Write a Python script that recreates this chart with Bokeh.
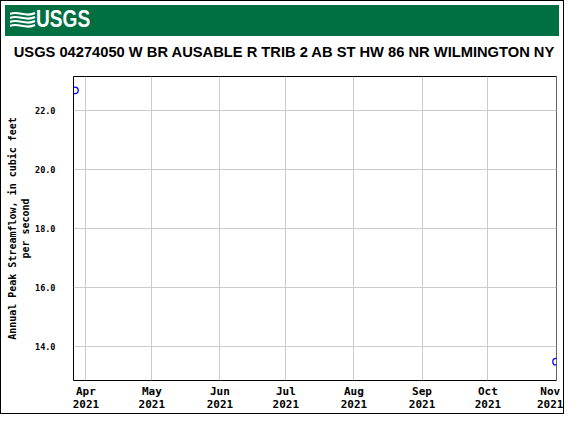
import pandas as pd
from bokeh.plotting import figure
from bokeh.layouts import column
from bokeh.models import (Range1d, FixedTicker, DatetimeTickFormatter, NumeralTickFormatter, Div)
from bokeh.embed import file_html
from bokeh.resources import INLINE

# ---------------- data ----------------
title_text = "USGS 04274050 W BR AUSABLE R TRIB 2 AB ST HW 86 NR WILMINGTON NY"
logo_text = "USGS"
y_label = "Annual Peak Streamflow, in cubic feet\nper second"

peak_dates = ["2021-03-27", "2021-11-01"]
peak_flows = [22.7, 13.5]

x_tick_dates = ["2021-04-01", "2021-05-01", "2021-06-01", "2021-07-01",
                "2021-08-01", "2021-09-01", "2021-10-01", "2021-11-01"]
x_tick_labels = ["Apr\n2021", "May\n2021", "Jun\n2021", "Jul\n2021",
                 "Aug\n2021", "Sep\n2021", "Oct\n2021", "Nov\n2021"]
y_ticks = [14, 16, 18, 20, 22]
y_tick_labels = ["14.0", "16.0", "18.0", "20.0", "22.0"]

x_start, x_end = "2021-03-26 08:00", "2021-11-01 05:00"
y_start, y_end = 12.86, 23.17


def ms(s):
    return pd.Timestamp(s).value / 1e6


W = 562
HEAD_H = 67
MAIN_H = 345
GREEN = "#006f41"
MONO = "DejaVu Sans Mono"

# ---------------- header: USGS bar + station title ----------------
wave_paths = "".join(
    f'<path d="M0,{y0} C8,{y0 - 4} 16,{y0 + 4} 25,{y0 - 1}" />' for y0 in (4, 8, 12, 16)
)
header_html = f"""
<div style="position:relative;width:{W}px;height:{HEAD_H}px;overflow:hidden;background:white;">
  <div style="position:absolute;left:4px;top:4px;width:554px;height:31px;background:{GREEN};"></div>
  <svg style="position:absolute;left:9px;top:9px;" width="26" height="20" viewBox="0 0 26 20">
    <g fill="none" stroke="white" stroke-width="2.2">{wave_paths}</g>
  </svg>
  <div style="position:absolute;left:35px;top:6px;color:white;font-family:'Liberation Sans',Arial,sans-serif;
              font-weight:bold;font-size:24.5px;line-height:24px;white-space:nowrap;
              transform:scaleX(0.78);transform-origin:left center;">{logo_text}</div>
  <div style="position:absolute;left:4px;top:43px;width:{W - 4}px;text-align:center;color:black;
              font-family:'Liberation Sans',Arial,sans-serif;font-weight:bold;font-size:14.7px;
              line-height:17px;white-space:nowrap;">{title_text}</div>
</div>
"""
head = Div(text=header_html, width=W, height=HEAD_H, margin=0)

# ---------------- main chart ----------------
p = figure(width=W, height=MAIN_H, x_axis_type="datetime",
           x_range=Range1d(ms(x_start), ms(x_end)),
           y_range=Range1d(y_start, y_end),
           toolbar_location=None, output_backend="svg", title=None,
           min_border_left=72, min_border_right=7, min_border_top=8,
           min_border_bottom=30, background_fill_color="white",
           border_fill_color="white")

p.outline_line_color = "black"
p.outline_line_width = 1
p.outline_line_alpha = 1

x_ticks_ms = [ms(d) for d in x_tick_dates]
p.xaxis.ticker = FixedTicker(ticks=x_ticks_ms, minor_ticks=[])
p.xaxis.formatter = DatetimeTickFormatter(months="%b\n%Y", days="%b\n%Y")
p.xaxis.major_label_overrides = {t: l for t, l in zip(x_ticks_ms, x_tick_labels)}
p.yaxis.ticker = FixedTicker(ticks=y_ticks, minor_ticks=[])
p.yaxis.formatter = NumeralTickFormatter(format="0.0")
p.yaxis.major_label_overrides = {t: l for t, l in zip(y_ticks, y_tick_labels)}

for ax in (p.xaxis, p.yaxis):
    ax.axis_line_color = None
    ax.major_tick_line_color = None
    ax.minor_tick_line_color = None
    ax.major_tick_out = 0
    ax.major_tick_in = 0
    ax.major_label_text_font = MONO
    ax.major_label_text_font_style = "bold"
    ax.major_label_text_color = "black"

p.xaxis.major_label_text_font_size = "11px"
p.xaxis.major_label_text_line_height = 1.0
p.xaxis.major_label_standoff = 4

p.yaxis.major_label_text_font_size = "8.5px"
p.yaxis.major_label_standoff = 18
p.yaxis.axis_label = y_label
p.yaxis.axis_label_text_font = MONO
p.yaxis.axis_label_text_font_size = "10px"
p.yaxis.axis_label_text_font_style = "bold"
p.yaxis.axis_label_text_color = "black"
p.yaxis.axis_label_text_line_height = 1.2
p.yaxis.axis_label_standoff = 1

p.xgrid.grid_line_color = "#cccccc"
p.ygrid.grid_line_color = "#cccccc"
p.xgrid.grid_line_width = 1
p.ygrid.grid_line_width = 1

p.scatter(x=[ms(d) for d in peak_dates], y=peak_flows, marker="circle", size=6.5,
          fill_color=None, line_color="#0000ff", line_width=1.3)

layout = column(head, p, spacing=0, styles={"border": "1px solid black"})

open("out.html", "w").write(file_html(layout, INLINE))
